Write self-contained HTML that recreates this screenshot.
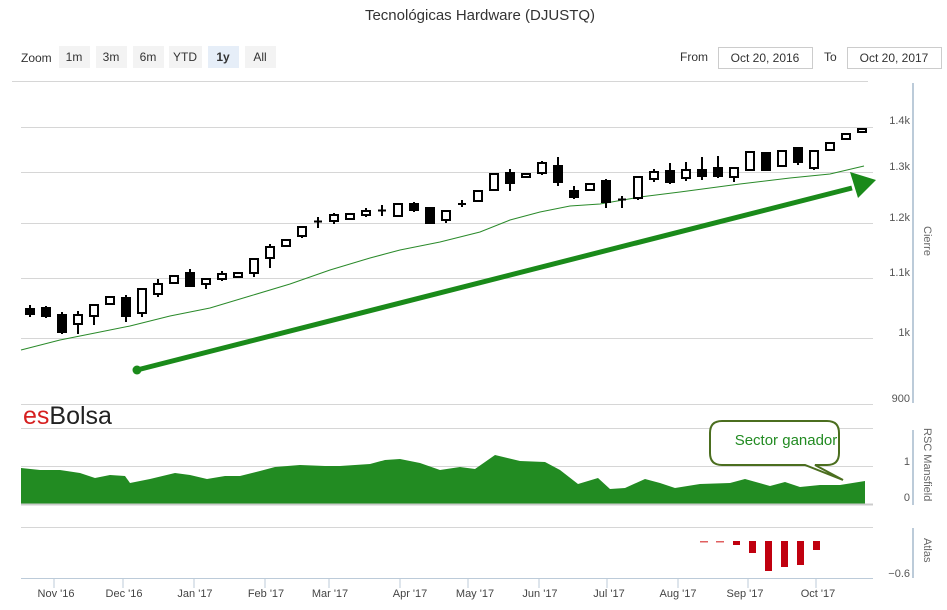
<!DOCTYPE html>
<html><head><meta charset="utf-8"><style>
body{margin:0;background:#fff;width:947px;height:610px;overflow:hidden;font-family:"Liberation Sans",sans-serif}
svg{display:block}
</style></head><body>
<svg width="947" height="610" xmlns="http://www.w3.org/2000/svg" font-family="Liberation Sans, sans-serif">
<text x="480" y="20" text-anchor="middle" font-size="15" fill="#333">Tecnológicas Hardware (DJUSTQ)</text>
<g font-size="12" fill="#333">
<text x="21" y="62">Zoom</text>
<rect x="59" y="46" width="31" height="22" fill="#f3f3f3"/><text x="74" y="61" text-anchor="middle">1m</text>
<rect x="96" y="46" width="31" height="22" fill="#f3f3f3"/><text x="111" y="61" text-anchor="middle">3m</text>
<rect x="133" y="46" width="31" height="22" fill="#f3f3f3"/><text x="148" y="61" text-anchor="middle">6m</text>
<rect x="169" y="46" width="33" height="22" fill="#f3f3f3"/><text x="185" y="61" text-anchor="middle">YTD</text>
<rect x="208" y="46" width="31" height="22" fill="#e6eef8"/><text x="223" y="61" text-anchor="middle" font-weight="bold">1y</text>
<rect x="245" y="46" width="31" height="22" fill="#f3f3f3"/><text x="260" y="61" text-anchor="middle">All</text>
<text x="680" y="61">From</text>
<rect x="718.5" y="47.5" width="94" height="21" fill="#fff" stroke="#ccc"/><text x="765" y="62" text-anchor="middle">Oct 20, 2016</text>
<text x="824" y="61">To</text>
<rect x="847.5" y="47.5" width="94" height="21" fill="#fff" stroke="#ccc"/><text x="894" y="62" text-anchor="middle">Oct 20, 2017</text>
</g>
<g stroke="#d6d6d6" stroke-width="1">
<line x1="12" y1="81.5" x2="868" y2="81.5"/>
<line x1="21" y1="127.5" x2="873" y2="127.5"/>
<line x1="21" y1="172.5" x2="873" y2="172.5"/>
<line x1="21" y1="223.5" x2="873" y2="223.5"/>
<line x1="21" y1="278.5" x2="873" y2="278.5"/>
<line x1="21" y1="338.5" x2="873" y2="338.5"/>
<line x1="21" y1="404.5" x2="873" y2="404.5"/>
<line x1="21" y1="428.5" x2="873" y2="428.5"/>
<line x1="21" y1="466.5" x2="873" y2="466.5"/>
<line x1="21" y1="527.5" x2="873" y2="527.5"/>
</g>
<g stroke="#bccbd9" stroke-width="2">
<line x1="913" y1="83" x2="913" y2="403"/>
<line x1="913" y1="430" x2="913" y2="505"/>
<line x1="913" y1="528" x2="913" y2="578"/>
</g>
<g font-size="11" fill="#555" text-anchor="end">
<text x="910" y="124">1.4k</text><text x="910" y="170">1.3k</text><text x="910" y="221">1.2k</text>
<text x="910" y="276">1.1k</text><text x="910" y="336">1k</text><text x="910" y="402">900</text>
<text x="910" y="465">1</text><text x="910" y="501">0</text><text x="910" y="577">−0.6</text>
</g>
<g font-size="11" fill="#666">
<text transform="translate(924,226) rotate(90)">Cierre</text>
<text transform="translate(924,428) rotate(90)">RSC Mansfield</text>
<text transform="translate(924,538) rotate(90)">Atlas</text>
</g>
<text x="23" y="424" font-size="25"><tspan fill="#d62020">es</tspan><tspan fill="#222">Bolsa</tspan></text>
<polyline fill="none" stroke="#2a8a2a" stroke-width="1" points="21,350 60,340 100,332 130,326 170,316 210,308 250,296 290,284 330,270 370,258 400,250 440,242 480,232 510,220 540,212 570,206 600,204 640,197 680,192 740,184 790,178 830,174 864,166"/>
<g fill="none" stroke="#000" stroke-width="2" id="c">
</g>
<g stroke="#000" stroke-width="2">
<script></script>
</g>
<g id="candles"></g>
<line x1="137" y1="370" x2="852" y2="188" stroke="#1a8a1a" stroke-width="5"/>
<circle cx="137" cy="370" r="4.5" fill="#1a8a1a"/>
<polygon points="876,180 850,172 858,198" fill="#1a8a1a"/>
<polygon fill="#228b22" points="21,468 40,470 60,470 80,473 95,478 110,475 125,476 130,483 150,479 175,473 190,475 207,479 225,476 240,476 260,471 275,467 300,465 325,466 340,466 355,465 370,464 385,460 400,459 420,463 440,470 460,467 475,469 495,455 520,461 545,462 560,470 578,484 598,478 610,489 625,488 645,479 660,483 675,488 700,484 730,483 745,479 770,486 785,482 800,487 820,485 840,485 865,481 865,504 21,504"/>
<line x1="21" y1="504.5" x2="873" y2="504.5" stroke="#ccc" stroke-width="2"/>
<path d="M722,421 h105 q12,0 12,12 v20 q0,12 -12,12 h-12 l28,15 l-38,-15 h-83 q-12,0 -12,-12 v-20 q0,-12 12,-12z" fill="#fff" stroke="#4b6e1f" stroke-width="2"/>
<text x="786" y="445" text-anchor="middle" font-size="15" fill="#228b22">Sector ganador</text>
<g fill="#c0000f">
<rect x="700" y="541" width="8" height="1.5" fill="#e06060"/><rect x="716" y="541" width="8" height="1.5" fill="#e06060"/>
<rect x="733" y="541" width="7" height="4"/><rect x="749" y="541" width="7" height="12"/>
<rect x="765" y="541" width="7" height="30"/><rect x="781" y="541" width="7" height="26"/>
<rect x="797" y="541" width="7" height="24"/><rect x="813" y="541" width="7" height="9"/>
</g>
<line x1="21" y1="578.5" x2="873" y2="578.5" stroke="#bccbd9" stroke-width="1"/>
<g stroke="#bccbd9"><line x1="54" y1="578" x2="54" y2="588"/><line x1="123" y1="578" x2="123" y2="588"/><line x1="194" y1="578" x2="194" y2="588"/><line x1="265" y1="578" x2="265" y2="588"/><line x1="329" y1="578" x2="329" y2="588"/><line x1="400" y1="578" x2="400" y2="588"/><line x1="468" y1="578" x2="468" y2="588"/><line x1="539" y1="578" x2="539" y2="588"/><line x1="607" y1="578" x2="607" y2="588"/><line x1="678" y1="578" x2="678" y2="588"/><line x1="748" y1="578" x2="748" y2="588"/><line x1="816" y1="578" x2="816" y2="588"/></g>
<g font-size="11" fill="#444" text-anchor="middle">
<text x="56" y="597">Nov '16</text><text x="124" y="597">Dec '16</text><text x="195" y="597">Jan '17</text><text x="266" y="597">Feb '17</text><text x="330" y="597">Mar '17</text><text x="410" y="597">Apr '17</text><text x="475" y="597">May '17</text><text x="540" y="597">Jun '17</text><text x="609" y="597">Jul '17</text><text x="678" y="597">Aug '17</text><text x="745" y="597">Sep '17</text><text x="818" y="597">Oct '17</text>
</g>
<g stroke="#000" stroke-width="2">
<!-- candles: wick then body -->
<line x1="30" y1="305" x2="30" y2="317"/><rect x="26" y="309" width="8" height="5" fill="#000"/>
<line x1="46" y1="306" x2="46" y2="318"/><rect x="42" y="308" width="8" height="8" fill="#000"/>
<line x1="62" y1="312" x2="62" y2="334"/><rect x="58" y="315" width="8" height="17" fill="#000"/>
<line x1="78" y1="311" x2="78" y2="334"/><rect x="74" y="315" width="8" height="9" fill="#fff"/>
<line x1="94" y1="305" x2="94" y2="325"/><rect x="90" y="305" width="8" height="11" fill="#fff"/>
<rect x="106" y="297" width="8" height="7" fill="#fff"/>
<line x1="126" y1="295" x2="126" y2="322"/><rect x="122" y="298" width="8" height="18" fill="#000"/>
<line x1="142" y1="289" x2="142" y2="317"/><rect x="138" y="289" width="8" height="24" fill="#fff"/>
<line x1="158" y1="279" x2="158" y2="297"/><rect x="154" y="284" width="8" height="10" fill="#fff"/>
<rect x="170" y="276" width="8" height="7" fill="#fff"/>
<line x1="190" y1="269" x2="190" y2="287"/><rect x="186" y="273" width="8" height="13" fill="#000"/>
<line x1="206" y1="279" x2="206" y2="289"/><rect x="202" y="279" width="8" height="5" fill="#fff"/>
<line x1="222" y1="271" x2="222" y2="281"/><rect x="218" y="274" width="8" height="5" fill="#fff"/>
<rect x="234" y="273" width="8" height="4" fill="#fff"/>
<line x1="254" y1="259" x2="254" y2="277"/><rect x="250" y="259" width="8" height="14" fill="#fff"/>
<line x1="270" y1="244" x2="270" y2="268"/><rect x="266" y="247" width="8" height="11" fill="#fff"/>
<rect x="282" y="240" width="8" height="6" fill="#fff"/>
<line x1="302" y1="226" x2="302" y2="238"/><rect x="298" y="227" width="8" height="9" fill="#fff"/>
<line x1="318" y1="217" x2="318" y2="228"/><line x1="314" y1="221.5" x2="322" y2="221.5"/>
<line x1="334" y1="213" x2="334" y2="224"/><rect x="330" y="215" width="8" height="6" fill="#fff"/>
<rect x="346" y="214" width="8" height="5" fill="#fff"/>
<line x1="366" y1="208" x2="366" y2="217"/><rect x="362" y="211" width="8" height="4" fill="#fff"/>
<line x1="382" y1="205" x2="382" y2="216"/><line x1="378" y1="210.5" x2="386" y2="210.5"/>
<rect x="394" y="204" width="8" height="12" fill="#fff"/>
<line x1="414" y1="202" x2="414" y2="212"/><rect x="410" y="204" width="8" height="6" fill="#000"/>
<rect x="426" y="208" width="8" height="15" fill="#000"/>
<line x1="446" y1="211" x2="446" y2="223"/><rect x="442" y="211" width="8" height="9" fill="#fff"/>
<line x1="462" y1="200" x2="462" y2="207"/><line x1="458" y1="204" x2="466" y2="204"/>
<rect x="474" y="191" width="8" height="10" fill="#fff"/>
<rect x="490" y="174" width="8" height="16" fill="#fff"/>
<line x1="510" y1="169" x2="510" y2="191"/><rect x="506" y="173" width="8" height="10" fill="#000"/>
<rect x="522" y="174" width="8" height="3" fill="#fff"/>
<line x1="542" y1="161" x2="542" y2="175"/><rect x="538" y="163" width="8" height="10" fill="#fff"/>
<line x1="558" y1="157" x2="558" y2="186"/><rect x="554" y="166" width="8" height="16" fill="#000"/>
<line x1="574" y1="186" x2="574" y2="199"/><rect x="570" y="191" width="8" height="6" fill="#000"/>
<rect x="586" y="184" width="8" height="6" fill="#fff"/>
<line x1="606" y1="179" x2="606" y2="208"/><rect x="602" y="181" width="8" height="21" fill="#000"/>
<line x1="622" y1="196" x2="622" y2="208"/><line x1="618" y1="199.5" x2="626" y2="199.5"/>
<line x1="638" y1="177" x2="638" y2="200"/><rect x="634" y="177" width="8" height="21" fill="#fff"/>
<line x1="654" y1="169" x2="654" y2="182"/><rect x="650" y="172" width="8" height="7" fill="#fff"/>
<line x1="670" y1="163" x2="670" y2="184"/><rect x="666" y="171" width="8" height="11" fill="#000"/>
<line x1="686" y1="162" x2="686" y2="181"/><rect x="682" y="170" width="8" height="8" fill="#fff"/>
<line x1="702" y1="157" x2="702" y2="180"/><rect x="698" y="170" width="8" height="6" fill="#000"/>
<line x1="718" y1="156" x2="718" y2="178"/><rect x="714" y="168" width="8" height="8" fill="#000"/>
<line x1="734" y1="168" x2="734" y2="182"/><rect x="730" y="168" width="8" height="9" fill="#fff"/>
<rect x="746" y="152" width="8" height="18" fill="#fff"/>
<rect x="762" y="153" width="8" height="17" fill="#000"/>
<rect x="778" y="151" width="8" height="15" fill="#fff"/>
<line x1="798" y1="147" x2="798" y2="165"/><rect x="794" y="148" width="8" height="14" fill="#000"/>
<line x1="814" y1="150" x2="814" y2="170"/><rect x="810" y="151" width="8" height="17" fill="#fff"/>
<rect x="826" y="143" width="8" height="7" fill="#fff"/>
<rect x="842" y="134" width="8" height="5" fill="#fff"/>
<rect x="858" y="129" width="8" height="3" fill="#fff"/>
</g>
</svg>
</body></html>
